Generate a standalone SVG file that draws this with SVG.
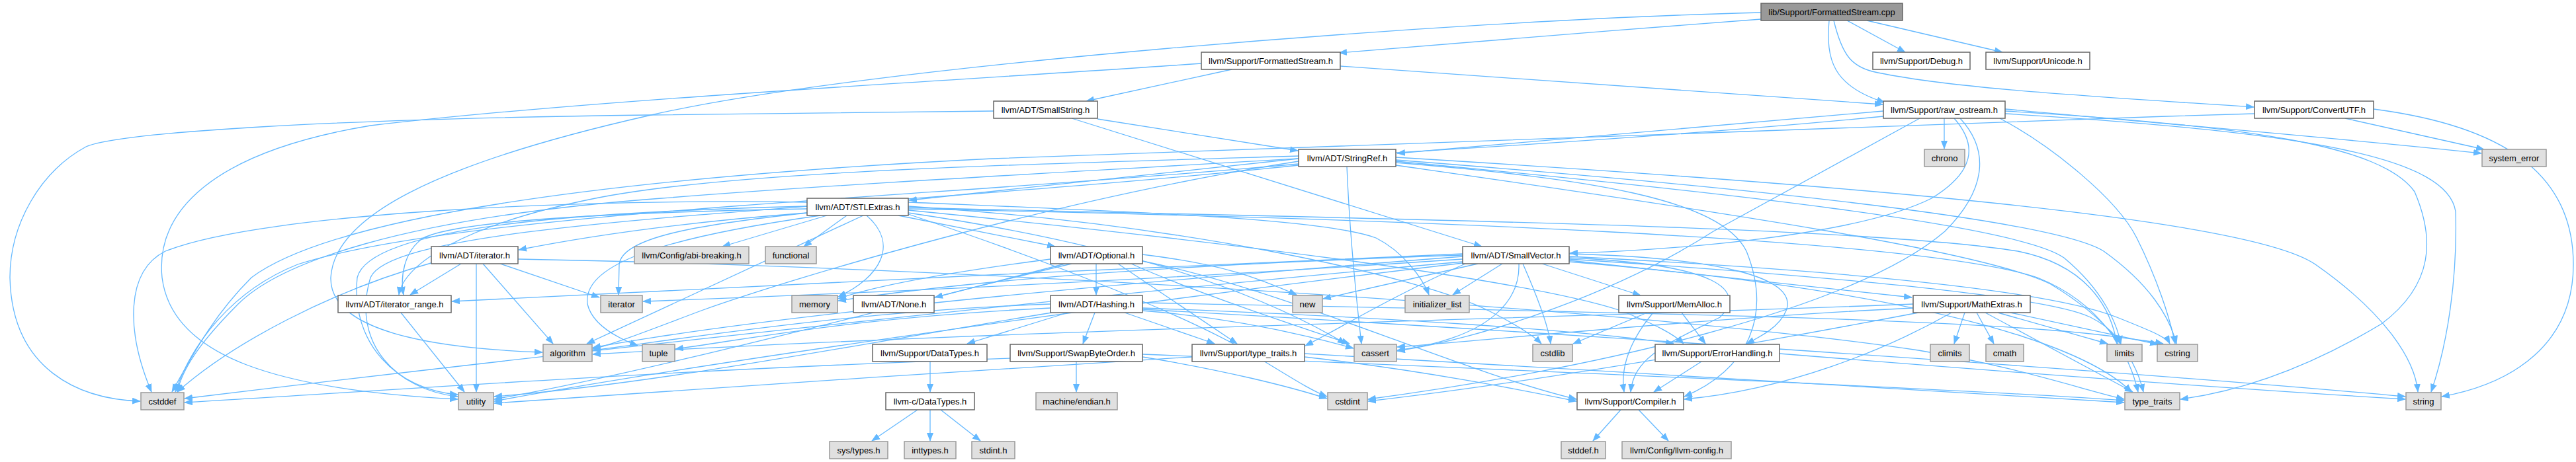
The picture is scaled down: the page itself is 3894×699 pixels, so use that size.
<svg xmlns="http://www.w3.org/2000/svg" width="3894" height="699" viewBox="0 0 3894 699">
<style>
.n rect{fill:#ffffff;stroke:#666666;stroke-width:1.5}
.x rect{fill:#e0e0e0;stroke:#999999;stroke-width:1.5}
.r rect{fill:#999999;stroke:#666666;stroke-width:1.5}
text{font-family:"Liberation Sans",Arial,sans-serif;font-size:13px;fill:#000000;text-anchor:middle}
#edges path{fill:none;stroke:#63b8ff;stroke-width:1.3;marker-end:url(#a)}
</style>
<defs>
<marker id="a" viewBox="0 0 13 10" refX="12" refY="5" markerWidth="13" markerHeight="10" markerUnits="userSpaceOnUse" orient="auto"><path d="M0,0 L13,5 L0,10 z" fill="#63b8ff"/></marker>
</defs>
<rect width="3894" height="699" fill="#ffffff"/>
<g id="edges">
<path d="M2662,29 C2450,45 2200,65 2024,80"/>
<path d="M2765,31 C2760,90 2770,130 2849,155"/>
<path d="M2792,31 L2880,79"/>
<path d="M2822,31 L3027,79"/>
<path d="M2772,31 C2785,85 2800,100 2830,108 C2950,135 3200,148 3407,162"/>
<path d="M2662,19 C2200,30 1300,100 980,175 C650,250 505,330 500,420 C498,500 650,527 820,533"/>
<path d="M1862,105 L1642,153"/>
<path d="M2026,100 L2846,158"/>
<path d="M1816,96 C1400,125 900,150 560,190 C320,230 235,320 245,420 C260,540 420,590 692,604"/>
<path d="M1659,180 L1962,228"/>
<path d="M1620,179 L2240,373"/>
<path d="M1502,168 L980,174 C500,180 180,200 130,222 C60,260 15,340 15,420 C18,560 120,604 212,607"/>
<path d="M1963,240 L1374,303"/>
<path d="M1963,236 C1500,250 1100,260 900,300 C700,340 610,400 603,446"/>
<path d="M2110,246 C2400,270 2600,300 2640,380 C2680,480 2640,560 2546,600"/>
<path d="M1963,244 C1600,300 1200,420 1060,470 C980,500 930,520 896,528"/>
<path d="M2036,252 C2040,350 2050,450 2058,520"/>
<path d="M1963,248 C1400,300 700,320 450,400 C350,440 290,520 265,593"/>
<path d="M2110,242 C2600,280 3100,330 3180,380 C3250,430 3280,480 3290,520"/>
<path d="M2110,244 C2600,290 3050,340 3120,390 C3180,440 3200,490 3206,520"/>
<path d="M2110,238 C2800,280 3400,330 3500,400 C3600,470 3650,540 3655,593"/>
<path d="M2110,250 C2600,320 3000,380 3100,430 C3200,490 3230,550 3240,593"/>
<path d="M1963,250 C1300,320 600,330 560,420 C530,520 600,590 692,600"/>
<path d="M2847,168 L2112,232"/>
<path d="M2954,179 C2990,220 2985,260 2920,300 C2800,360 2500,380 2373,383"/>
<path d="M2939,179 L2939,225"/>
<path d="M3031,165 C3300,190 3550,210 3751,232"/>
<path d="M2902,179 L2590,350 C2450,440 2250,510 2112,531"/>
<path d="M2847,176 C2300,230 1500,260 1000,300 C600,330 420,400 360,460 C300,520 275,560 268,593"/>
<path d="M2963,179 C3010,230 3000,290 2940,350 C2800,470 2400,560 2068,604"/>
<path d="M3023,179 C3100,220 3200,300 3230,360 C3260,420 3280,480 3288,520"/>
<path d="M3031,172 C3500,200 3700,240 3712,320 C3715,420 3700,520 3675,593"/>
<path d="M3031,168 C3400,190 3600,220 3650,290 C3680,360 3680,430 3600,490 C3500,550 3400,590 3296,604"/>
<path d="M3545,179 L3755,226"/>
<path d="M3588,165 C3780,190 3890,260 3890,400 C3890,520 3800,580 3691,600"/>
<path d="M3408,172 C2800,190 2200,210 1500,240 C900,270 500,330 380,420 C320,480 290,540 260,593"/>
<path d="M1358,326 L1595,373"/>
<path d="M1220,322 C1050,335 900,355 784,378"/>
<path d="M1220,316 C1000,320 700,330 640,360 C610,380 605,420 610,446"/>
<path d="M1250,326 L1092,373"/>
<path d="M1280,326 L1215,373"/>
<path d="M1373,318 C1800,360 2300,420 2450,470 C2500,490 2530,505 2545,520"/>
<path d="M1305,326 L887,520"/>
<path d="M1373,322 C1700,370 1900,440 2034,520"/>
<path d="M1220,306 C900,300 400,320 250,380 C190,410 190,500 229,593"/>
<path d="M1373,324 C1600,400 1800,480 1900,540 C1950,570 1980,590 2006,600"/>
<path d="M1373,312 C1800,340 2150,420 2250,470 C2300,495 2320,510 2330,520"/>
<path d="M1373,306 C1700,320 2000,330 2080,360 C2120,380 2150,420 2160,446"/>
<path d="M1222,322 C1050,340 940,360 936,400 L935,446"/>
<path d="M1373,314 C2000,330 2800,340 3050,380 C3150,400 3190,460 3200,520"/>
<path d="M1310,326 C1360,370 1330,420 1267,449"/>
<path d="M1240,326 C1000,360 880,400 888,460 C895,490 930,510 964,523"/>
<path d="M1373,316 C2100,330 2900,360 3080,420 C3180,460 3220,540 3232,593"/>
<path d="M1220,312 C900,320 560,340 540,420 C530,520 600,590 692,597"/>
<path d="M697,399 L620,446"/>
<path d="M730,399 L836,520"/>
<path d="M655,397 C500,440 350,520 268,593"/>
<path d="M756,399 L906,450"/>
<path d="M783,392 C1500,405 2500,470 2900,530 C3050,555 3150,590 3211,604"/>
<path d="M720,399 L720,593"/>
<path d="M606,473 L702,593"/>
<path d="M1657,399 L1657,446"/>
<path d="M1610,399 L1413,450"/>
<path d="M1690,399 L1870,520"/>
<path d="M1727,395 C1950,440 2200,560 2383,604"/>
<path d="M1710,399 C1800,440 1950,490 2040,520"/>
<path d="M1588,392 C1450,410 1330,430 1267,452"/>
<path d="M1727,385 C1850,400 1900,420 1960,446"/>
<path d="M1620,399 C1400,450 1000,560 747,604"/>
<path d="M1614,473 L1462,520"/>
<path d="M1727,466 C2100,480 2400,500 2530,520"/>
<path d="M1655,473 L1637,520"/>
<path d="M1700,473 L1836,520"/>
<path d="M1588,460 C1300,470 1050,510 896,530"/>
<path d="M1727,470 C1850,480 1950,500 2046,527"/>
<path d="M1727,458 C2300,470 3000,480 3200,510 C3240,515 3260,518 3270,520"/>
<path d="M1727,468 C2300,500 3200,560 3636,600"/>
<path d="M1588,466 C1300,480 1150,510 1021,528"/>
<path d="M1590,473 C1300,520 1000,580 747,600"/>
<path d="M2211,384 C1800,400 1000,440 683,456"/>
<path d="M2372,390 C2600,400 2640,440 2600,480 C2520,520 2470,540 2465,593"/>
<path d="M2372,384 C2600,390 2720,420 2700,470 C2690,495 2660,510 2640,520"/>
<path d="M2372,394 L2890,450"/>
<path d="M2331,399 L2480,447"/>
<path d="M2215,399 C2100,450 2020,500 1973,523"/>
<path d="M2211,388 C1800,420 1200,470 896,526"/>
<path d="M2296,399 C2298,450 2260,510 2112,530"/>
<path d="M2211,396 C1600,450 800,540 279,603"/>
<path d="M2302,399 C2320,440 2340,490 2344,520"/>
<path d="M2372,388 C2800,410 3100,440 3200,480 C3250,500 3275,510 3280,520"/>
<path d="M2271,399 L2196,446"/>
<path d="M2211,392 C1800,420 1400,440 972,456"/>
<path d="M2372,392 C2800,420 3100,450 3160,480 C3190,495 3200,510 3205,520"/>
<path d="M2211,386 C1800,400 1500,420 1267,455"/>
<path d="M2234,399 L2000,452"/>
<path d="M2372,396 C2900,440 3150,520 3222,593"/>
<path d="M2211,398 C1600,470 1000,560 747,607"/>
<path d="M1406,547 L1406,593"/>
<path d="M1387,620 L1318,667"/>
<path d="M1406,620 L1406,667"/>
<path d="M1422,620 L1482,667"/>
<path d="M1627,547 L1627,593"/>
<path d="M1527,542 C1000,560 600,590 279,609"/>
<path d="M1727,540 C1850,560 1950,585 2006,603"/>
<path d="M1727,536 C2300,560 3000,590 3211,606"/>
<path d="M1972,540 C2150,560 2300,590 2383,607"/>
<path d="M1972,535 C2400,560 3000,595 3211,609"/>
<path d="M1802,540 C1500,560 1000,590 747,610"/>
<path d="M2572,547 L2500,593"/>
<path d="M2690,535 C3000,560 3400,590 3636,604"/>
<path d="M2499,473 C2460,520 2450,560 2455,593"/>
<path d="M2542,473 L2578,520"/>
<path d="M2490,473 L2378,520"/>
<path d="M2950,473 C2850,530 2700,590 2546,604"/>
<path d="M2892,466 C2600,480 2300,510 2112,525"/>
<path d="M2970,473 L2954,520"/>
<path d="M2988,473 L3014,520"/>
<path d="M2900,473 C2600,530 2300,580 2068,607"/>
<path d="M3039,473 L3262,521"/>
<path d="M3020,473 L3186,520"/>
<path d="M3001,473 L3224,593"/>
<path d="M2892,460 C2400,480 1500,500 896,536"/>
<path d="M2450,620 L2408,667"/>
<path d="M2477,620 L2522,667"/>
</g>
<g id="root" class="r"><rect x="2662" y="5" width="214" height="26"/><text x="2769" y="23">lib/Support/FormattedStream.cpp</text></g>
<g id="fsh" class="n"><rect x="1816" y="79" width="210" height="26"/><text x="1921" y="97">llvm/Support/FormattedStream.h</text></g>
<g id="debug" class="n"><rect x="2831" y="79" width="147" height="26"/><text x="2904.5" y="97">llvm/Support/Debug.h</text></g>
<g id="unicode" class="n"><rect x="3002" y="79" width="157" height="26"/><text x="3080.5" y="97">llvm/Support/Unicode.h</text></g>
<g id="smallstring" class="n"><rect x="1502" y="153" width="157" height="26"/><text x="1580.5" y="171">llvm/ADT/SmallString.h</text></g>
<g id="rawos" class="n"><rect x="2847" y="153" width="184" height="26"/><text x="2939" y="171">llvm/Support/raw_ostream.h</text></g>
<g id="convertutf" class="n"><rect x="3408" y="153" width="180" height="26"/><text x="3498" y="171">llvm/Support/ConvertUTF.h</text></g>
<g id="stringref" class="n"><rect x="1963" y="226" width="147" height="26"/><text x="2036.5" y="244">llvm/ADT/StringRef.h</text></g>
<g id="chrono" class="x"><rect x="2909" y="226" width="61" height="26"/><text x="2939.5" y="244">chrono</text></g>
<g id="syserr" class="x"><rect x="3752" y="226" width="97" height="26"/><text x="3800.5" y="244">system_error</text></g>
<g id="stlextras" class="n"><rect x="1220" y="300" width="153" height="26"/><text x="1296.5" y="318">llvm/ADT/STLExtras.h</text></g>
<g id="iteratorh" class="n"><rect x="652" y="373" width="131" height="26"/><text x="717.5" y="391">llvm/ADT/iterator.h</text></g>
<g id="abi" class="x"><rect x="959" y="373" width="173" height="26"/><text x="1045.5" y="391">llvm/Config/abi-breaking.h</text></g>
<g id="functional" class="x"><rect x="1157" y="373" width="77" height="26"/><text x="1195.5" y="391">functional</text></g>
<g id="optional" class="n"><rect x="1588" y="373" width="139" height="26"/><text x="1657.5" y="391">llvm/ADT/Optional.h</text></g>
<g id="smallvector" class="n"><rect x="2211" y="373" width="161" height="26"/><text x="2291.5" y="391">llvm/ADT/SmallVector.h</text></g>
<g id="iterrange" class="n"><rect x="511" y="447" width="171" height="26"/><text x="596.5" y="465">llvm/ADT/iterator_range.h</text></g>
<g id="iterator" class="x"><rect x="908" y="447" width="63" height="26"/><text x="939.5" y="465">iterator</text></g>
<g id="memory" class="x"><rect x="1197" y="447" width="69" height="26"/><text x="1231.5" y="465">memory</text></g>
<g id="none" class="n"><rect x="1290" y="447" width="122" height="26"/><text x="1351" y="465">llvm/ADT/None.h</text></g>
<g id="hashing" class="n"><rect x="1588" y="447" width="139" height="26"/><text x="1657.5" y="465">llvm/ADT/Hashing.h</text></g>
<g id="new" class="x"><rect x="1954" y="447" width="45" height="26"/><text x="1976.5" y="465">new</text></g>
<g id="initlist" class="x"><rect x="2124" y="447" width="97" height="26"/><text x="2172.5" y="465">initializer_list</text></g>
<g id="memalloc" class="n"><rect x="2447" y="447" width="168" height="26"/><text x="2531" y="465">llvm/Support/MemAlloc.h</text></g>
<g id="mathextras" class="n"><rect x="2892" y="447" width="177" height="26"/><text x="2980.5" y="465">llvm/Support/MathExtras.h</text></g>
<g id="algorithm" class="x"><rect x="821" y="521" width="74" height="26"/><text x="858" y="539">algorithm</text></g>
<g id="tuple" class="x"><rect x="971" y="521" width="49" height="26"/><text x="995.5" y="539">tuple</text></g>
<g id="datatypes" class="n"><rect x="1319" y="521" width="173" height="26"/><text x="1405.5" y="539">llvm/Support/DataTypes.h</text></g>
<g id="swapbyte" class="n"><rect x="1527" y="521" width="200" height="26"/><text x="1627" y="539">llvm/Support/SwapByteOrder.h</text></g>
<g id="typetraitsh" class="n"><rect x="1802" y="521" width="170" height="26"/><text x="1887" y="539">llvm/Support/type_traits.h</text></g>
<g id="cassert" class="x"><rect x="2047" y="521" width="64" height="26"/><text x="2079" y="539">cassert</text></g>
<g id="cstdlib" class="x"><rect x="2317" y="521" width="60" height="26"/><text x="2347" y="539">cstdlib</text></g>
<g id="errhandling" class="n"><rect x="2502" y="521" width="188" height="26"/><text x="2596" y="539">llvm/Support/ErrorHandling.h</text></g>
<g id="climits" class="x"><rect x="2918" y="521" width="59" height="26"/><text x="2947.5" y="539">climits</text></g>
<g id="cmath" class="x"><rect x="3002" y="521" width="57" height="26"/><text x="3030.5" y="539">cmath</text></g>
<g id="limits" class="x"><rect x="3185" y="521" width="53" height="26"/><text x="3211.5" y="539">limits</text></g>
<g id="cstring" class="x"><rect x="3261" y="521" width="61" height="26"/><text x="3291.5" y="539">cstring</text></g>
<g id="cstddef" class="x"><rect x="213" y="594" width="65" height="26"/><text x="245.5" y="612">cstddef</text></g>
<g id="utility" class="x"><rect x="693" y="594" width="53" height="26"/><text x="719.5" y="612">utility</text></g>
<g id="cdatatypes" class="n"><rect x="1339" y="594" width="134" height="26"/><text x="1406" y="612">llvm-c/DataTypes.h</text></g>
<g id="endian" class="x"><rect x="1566" y="594" width="123" height="26"/><text x="1627.5" y="612">machine/endian.h</text></g>
<g id="cstdint" class="x"><rect x="2007" y="594" width="60" height="26"/><text x="2037" y="612">cstdint</text></g>
<g id="compiler" class="n"><rect x="2384" y="594" width="161" height="26"/><text x="2464.5" y="612">llvm/Support/Compiler.h</text></g>
<g id="typetraits" class="x"><rect x="3212" y="594" width="83" height="26"/><text x="3253.5" y="612">type_traits</text></g>
<g id="string" class="x"><rect x="3637" y="594" width="53" height="26"/><text x="3663.5" y="612">string</text></g>
<g id="systypes" class="x"><rect x="1254" y="668" width="88" height="26"/><text x="1298" y="686">sys/types.h</text></g>
<g id="inttypes" class="x"><rect x="1367" y="668" width="78" height="26"/><text x="1406" y="686">inttypes.h</text></g>
<g id="stdint" class="x"><rect x="1469" y="668" width="65" height="26"/><text x="1501.5" y="686">stdint.h</text></g>
<g id="stddef" class="x"><rect x="2360" y="668" width="67" height="26"/><text x="2393.5" y="686">stddef.h</text></g>
<g id="llvmconfig" class="x"><rect x="2452" y="668" width="165" height="26"/><text x="2534.5" y="686">llvm/Config/llvm-config.h</text></g>
</svg>
